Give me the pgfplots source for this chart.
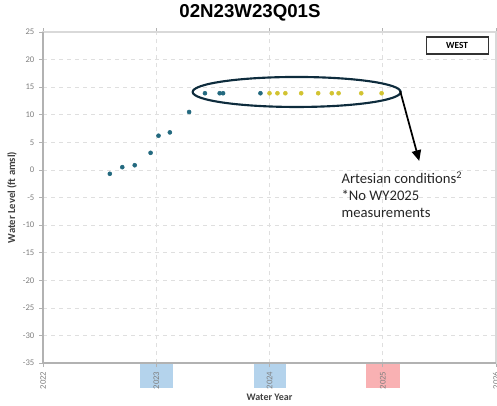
\documentclass[border=0pt]{standalone}
\usepackage{fontspec}
\setmainfont{Carlito}
\newfontfamily\titlefont{Liberation Sans}
\usepackage{pgfplots}
\pgfplotsset{compat=1.18}
\usetikzlibrary{arrows.meta}
\definecolor{ptblue}{HTML}{23697F}
\definecolor{ptyellow}{HTML}{D2C331}
\definecolor{bandblue}{HTML}{B4D3EC}
\definecolor{bandpink}{HTML}{F9B1B3}
\definecolor{tickgray}{HTML}{7F7F7F}
\definecolor{labgray}{HTML}{404040}
\definecolor{ellcol}{HTML}{0E2C3D}
\pgfplotsset{base/.style={
  at={(0pt,0pt)}, anchor=south west,
  scale only axis, width=339.75pt, height=248.25pt,
  xmin=2022, xmax=2026, ymin=-35, ymax=25, clip=false}}
\begin{document}
\begin{tikzpicture}
\useasboundingbox (-32.25pt,-31.5pt) rectangle (340.5pt,272.25pt);
% background bands behind the year tick labels
\begin{axis}[base, hide axis]
\fill[bandblue] (axis cs:2022.855,-35) rectangle (axis cs:2023.145,-39.5);
\fill[bandblue] (axis cs:2023.859,-35) rectangle (axis cs:2024.150,-39.5);
\fill[bandpink] (axis cs:2024.855,-35) rectangle (axis cs:2025.154,-39.5);
\end{axis}
\begin{axis}[
  base,
  xtick={2022,2023,2024,2025,2026},
  ytick={-35,-30,...,25},
  /pgf/number format/assume math mode=true,
  /pgf/number format/1000 sep={},
  xticklabel style={rotate=90, anchor=east, font=\fontsize{6.5}{7}\selectfont, text=tickgray},
  yticklabel style={font=\fontsize{6.5}{7}\selectfont, text=tickgray},
  tick align=outside,
  major tick length=3pt,
  tick style={gray!60, line width=0.5pt},
  grid=major,
  major grid style={dashed, gray!25, line width=0.4pt},
  axis line style={gray!30, line width=0.8pt},
  xlabel={Water Year},
  ylabel={Water Level (ft amsl)},
  xlabel style={font=\bfseries\fontsize{7.5}{8}\selectfont, text=labgray, at={(axis description cs:0.5,-0.1027)}, anchor=center},
  ylabel style={font=\bfseries\fontsize{8}{9}\selectfont, text=labgray, at={(axis description cs:-0.0684,0.5)}, anchor=center},
]
% darker left and bottom axis lines
\draw[gray!60, line width=1pt] (rel axis cs:0,1) -- (rel axis cs:0,0) -- (rel axis cs:1,0);

\addplot[only marks, mark=*, mark size=1.5pt, color=ptblue] coordinates {
  (2022.59,-0.7) (2022.70,0.5) (2022.81,0.85) (2022.95,3.1) (2023.02,6.2)
  (2023.12,6.8) (2023.29,10.5) (2023.43,13.9) (2023.56,13.9) (2023.59,13.9)
  (2023.92,13.9)
};
\addplot[only marks, mark=*, mark size=1.5pt, color=ptyellow] coordinates {
  (2024.00,13.9) (2024.07,13.9) (2024.14,13.9) (2024.28,13.9) (2024.43,13.9)
  (2024.55,13.9) (2024.61,13.9) (2024.81,13.9) (2024.99,13.9)
};

\draw[ellcol, line width=1.6pt] (axis cs:2024.240,14.13) ellipse [x radius=78pt, y radius=11.25pt];
\draw[black, line width=1.3pt, -{Triangle[length=8pt,width=7pt]}] (axis cs:2025.154,14.3) -- (axis cs:2025.322,1.63);
\node[anchor=north west, align=left, inner sep=0pt, font=\fontsize{11}{12.75}\selectfont, text=black!85]
  at (axis cs:2024.634,-0.3) {Artesian conditions\textsuperscript{2}\\*No WY2025\\measurements};
\node[draw=black!80, line width=0.8pt, minimum width=46.5pt, minimum height=12.75pt, inner sep=0pt, font=\bfseries\fontsize{7}{8}\selectfont]
  at (axis cs:2025.656,22.55) {WEST};
\end{axis}
\node[font=\titlefont\bfseries\fontsize{14}{16}\selectfont] at (155.25pt,262.5pt) {02N23W23Q01S};
\end{tikzpicture}
\end{document}
